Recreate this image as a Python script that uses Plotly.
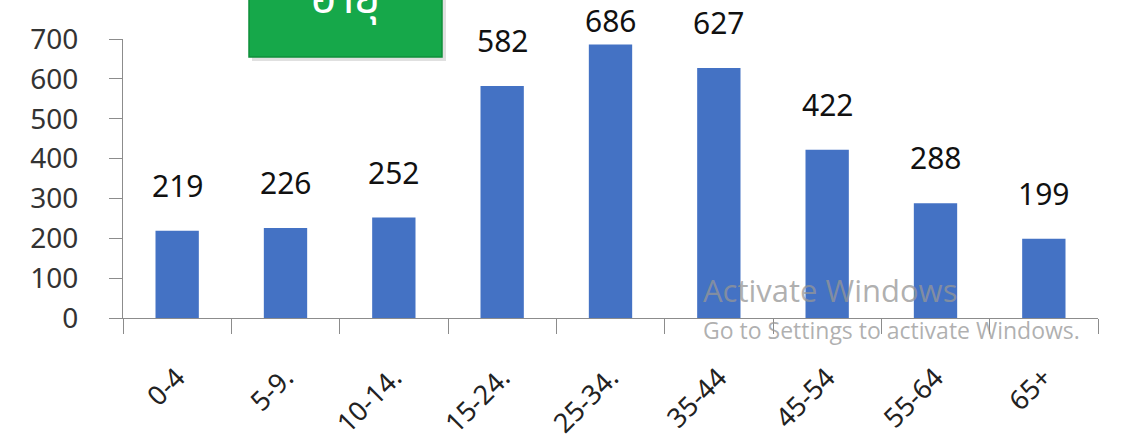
import plotly.graph_objects as go

categories = ["0-4", "5-9.", "10-14.", "15-24.", "25-34.", "35-44", "45-54", "55-64", "65+"]
values = [219, 226, 252, 582, 686, 627, 422, 288, 199]
y_ticks = [0, 100, 200, 300, 400, 500, 600, 700]
title_text = "อายุ"

W, H = 1127, 447
L, R, T, B = 123, 29, 39, 129
plot_h = H - T - B
Y_MAX = 700

fig = go.Figure()
fig.add_trace(go.Bar(
    x=categories, y=values,
    marker=dict(color="#4472C4", line=dict(width=0)),
    width=0.4,
    hoverinfo="skip",
))

LABEL_SIZE = 30
for c, v in zip(categories, values):
    bar_top_px = T + plot_h * (1 - v / Y_MAX)
    # keep the label inside the picture
    shift = min(23, bar_top_px - 43)
    fig.add_annotation(
        x=c, y=v, xref="x", yref="y",
        text=str(v), showarrow=False,
        yanchor="bottom", yshift=shift,
        font=dict(family="Noto Sans, DejaVu Sans, sans-serif", size=LABEL_SIZE, color="#111111"),
    )

def py(px):
    return (H - B - px) / plot_h

def pxp(px):
    return (px - L) / (W - L - R)

# green title box (cut at the top of the picture)
fig.add_shape(type="rect", xref="paper", yref="paper",
              x0=pxp(252), x1=pxp(446), y0=py(61), y1=py(-20),
              fillcolor="rgba(0,0,0,0.12)", line=dict(width=0), layer="above")
fig.add_shape(type="rect", xref="paper", yref="paper",
              x0=pxp(249), x1=pxp(442), y0=py(57), y1=py(-20),
              fillcolor="#16A84A", line=dict(color="#0E8F3A", width=1.5), layer="above")
fig.add_annotation(
    x=pxp(345), y=py(-4), xref="paper", yref="paper",
    text=title_text, showarrow=False, xanchor="center", yanchor="middle",
    font=dict(family="Noto Sans, Noto Sans Thai, sans-serif", size=44, color="white"),
)

# watermark
fig.add_annotation(
    x=pxp(701), y=py(290), xref="paper", yref="paper",
    text="Activate Windows", showarrow=False, xanchor="left", yanchor="middle",
    font=dict(family="Open Sans, Noto Sans, sans-serif", size=31, color="rgba(150,150,150,0.75)"),
)
fig.add_annotation(
    x=pxp(701), y=py(330), xref="paper", yref="paper",
    text="Go to Settings to activate Windows.", showarrow=False, xanchor="left", yanchor="middle",
    font=dict(family="Open Sans, Noto Sans, sans-serif", size=23, color="rgba(150,150,150,0.75)"),
)

fig.update_layout(
    width=W, height=H,
    margin=dict(l=L, r=R, t=T, b=B, autoexpand=False),
    paper_bgcolor="white", plot_bgcolor="white",
    showlegend=False, bargap=0.6,
    font=dict(family="Noto Sans, DejaVu Sans, sans-serif", color="#333333"),
)
fig.update_xaxes(
    type="category", automargin=False,
    showline=True, linecolor="#8c8c8c", linewidth=1.2,
    ticks="outside", ticklen=15, tickcolor="#8c8c8c", tickwidth=1.2,
    tickson="boundaries", tickangle=-45,
    tickfont=dict(size=27, color="#222222"),
    ticklabelstandoff=32,
    showgrid=False, zeroline=False,
)
fig.update_yaxes(
    range=[0, Y_MAX], tickvals=y_ticks, automargin=False,
    showline=True, linecolor="#8c8c8c", linewidth=1.2,
    ticks="outside", ticklen=13, tickcolor="#8c8c8c", tickwidth=1.2,
    tickfont=dict(size=28, color="#333333"),
    ticklabelstandoff=25,
    showgrid=False, zeroline=False,
)

fig.write_html("out.html", config={"displayModeBar": False},
               post_script="document.body.style.margin='0px';")
